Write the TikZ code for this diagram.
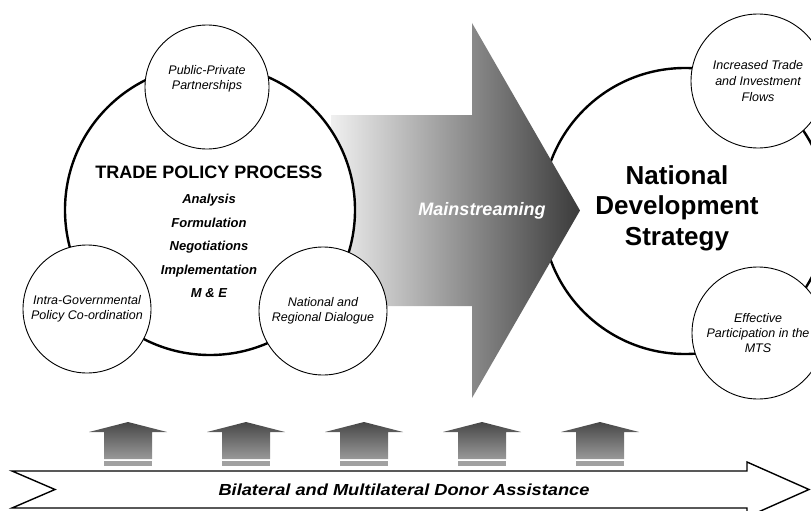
\documentclass[tikz,border=0pt]{standalone}
\usepackage{fontspec}
\setmainfont{Liberation Sans}
\newfontfamily\widefont{Liberation Sans}[FakeStretch=1.14]
\usetikzlibrary{positioning,shadings}

\begin{document}
\begin{tikzpicture}[x=1pt, y=-1pt,
  bigcirc/.style={circle, draw, line width=2.4pt, fill=white, inner sep=0pt},
  satcirc/.style={circle, draw, line width=0.9pt, fill=white, inner sep=0pt, align=center,
    font=\fontsize{12.5}{15.5}\selectfont\itshape},
  upblock/.style={top color=black!72, bottom color=black!40},
  bandblock/.style={fill=black!37}]
\useasboundingbox (0,0) rectangle (811,511);
\clip (0,0) rectangle (811,511);

\node[bigcirc, minimum size=286pt] (NDS) at (685,211) {};

% mainstreaming arrow
\path[left color=black!6, right color=black!77]
  (331,115) -- (472,115) -- (472,23) -- (580,210.5) -- (472,398) -- (472,306) -- (331,306) -- cycle;
\node[text=white, font=\bfseries\itshape\fontsize{18}{21}\selectfont] (MAIN) at (482,211) {Mainstreaming};

\node[bigcirc, minimum size=290pt] (TPP) at (210,210) {};

\node[satcirc, minimum size=124pt] (PPP) at (207,87) {Public-Private\\Partnerships\\[4pt]};
\node[satcirc, minimum size=128pt] (IGC) at (87,309) {Intra-Governmental\\Policy Co-ordination};
\node[satcirc, minimum size=128pt] (NRD) at (323,311) {National and\\Regional Dialogue};
\node[satcirc, minimum size=134pt, font=\fontsize{12.5}{16}\selectfont\itshape] (ITF) at (758,81) {Increased Trade\\and Investment\\Flows};
\node[satcirc, minimum size=132pt, font=\fontsize{12.5}{15}\selectfont\itshape] (EMTS) at (758,333) {Effective\\Participation in the\\MTS};

\node[font=\bfseries\fontsize{18}{21}\selectfont] (TPPtitle) at (209,172) {TRADE POLICY PROCESS};
\node[align=center, font=\bfseries\itshape\fontsize{13}{23.5}\selectfont] (TPPsteps) at (209,246)
  {Analysis\\Formulation\\Negotiations\\Implementation\\M \& E};

\node[align=center, font=\bfseries\fontsize{26}{30.5}\selectfont] (NDStitle) at (677,208)
  {National\\Development\\Strategy};

% donor arrows
\foreach \x in {128,246,364,482,600}{
  \path[upblock] (\x-24,459) -- (\x-24,432) -- (\x-39,432) -- (\x,422) -- (\x+39,432) -- (\x+24,432) -- (\x+24,459) -- cycle;
  \path[bandblock] (\x-24,460.5) rectangle (\x+24,466);
}

\draw[line width=1.4pt, fill=white] (12,471) -- (747,471) -- (747,462) -- (809,489.5)
  -- (747,517) -- (747,508) -- (12,508) -- (55,489.5) -- cycle;
\node[font=\widefont\bfseries\itshape\fontsize{16}{18}\selectfont] (DONOR) at (404,490)
  {Bilateral and Multilateral Donor Assistance};
\end{tikzpicture}
\end{document}
